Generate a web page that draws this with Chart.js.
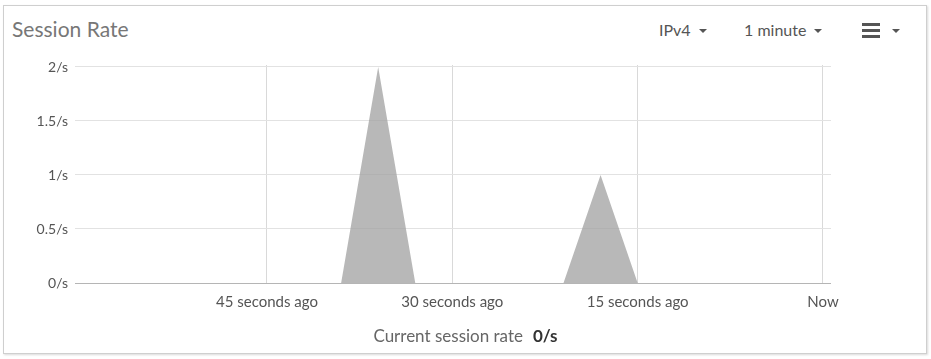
<!DOCTYPE html>
<html>
<head>
<meta charset="utf-8">
<script src="https://cdn.jsdelivr.net/npm/chart.js@4.4.1/dist/chart.umd.min.js"></script>
<style>
  html, body { margin: 0; padding: 0; background: #fff; }
  body { width: 931px; height: 359px; position: relative; overflow: hidden; font-family: Lato, "Open Sans", sans-serif; }
  #panel { position: absolute; left: 3px; top: 5px; width: 922px; height: 347px; border: 1px solid #cfcfcf; box-shadow: 1px 1px 2px rgba(0,0,0,0.15); }
  #title { position: absolute; left: 12px; top: 16px; font-size: 21px; color: #777; }
  .ctl { position: absolute; top: 20px; font-size: 16px; color: #555; }
  .caret { display: inline-block; width: 0; height: 0; border-left: 4px solid transparent; border-right: 4px solid transparent; border-top: 4px solid #555; vertical-align: middle; margin-left: 4px; margin-top: -2px; }
  #burger { position: absolute; left: 862px; top: 23px; width: 18px; }
  #burger i { display: block; height: 3px; background: #555; margin-bottom: 3px; }
  #footer { position: absolute; left: 0; width: 931px; top: 325px; text-align: center; font-size: 17px; color: #666; }
  #footer b { color: #333; margin-left: 10px; }
  #wrap { position: absolute; left: 0; top: 0; width: 931px; height: 359px; }
</style>
</head>
<body>
<div id="panel"></div>
<div id="title">Session Rate</div>
<div class="ctl" style="left:659px">IPv4 <span class="caret"></span></div>
<div class="ctl" style="left:744px">1 minute <span class="caret"></span></div>
<div id="burger"><i></i><i></i><i></i></div>
<div class="ctl" style="left:888px"><span class="caret"></span></div>
<div id="wrap"><canvas id="graph"></canvas></div>
<div id="footer">Current session rate<b>0/s</b></div>

<script>
// samples every 3 seconds over the last minute
const seconds = [-60, -57, -54, -51, -48, -45, -42, -39, -36, -33, -30, -27, -24, -21, -18, -15, -12, -9, -6, -3, 0];
const sessionRate = [0, 0, 0, 0, 0, 0, 0, 0, 2, 0, 0, 0, 0, 0, 1, 0, 0, 0, 0, 0, 0];
const timeTicks = [-45, -30, -15, 0];
const timeLabels = ['45 seconds ago', '30 seconds ago', '15 seconds ago', 'Now'];
const rateTicks = [0, 0.5, 1, 1.5, 2];

Chart.defaults.font.family = 'Lato';
Chart.defaults.color = '#666';

const points = seconds.map((s, i) => ({ x: s, y: sessionRate[i] }));

new Chart(document.getElementById('graph'), {
  type: 'line',
  data: {
    datasets: [{
      data: points,
      fill: 'origin',
      backgroundColor: 'rgba(160,160,160,0.75)',
      borderWidth: 0,
      pointRadius: 0,
      tension: 0
    }]
  },
  options: {
    responsive: true,
    maintainAspectRatio: false,
    animation: false,
    events: [],
    layout: { padding: { left: 0, right: 100, top: 65, bottom: 46 } },
    plugins: { legend: { display: false }, tooltip: { enabled: false } },
    scales: {
      x: {
        type: 'linear',
        min: -60.54,
        max: 0.65,
        afterBuildTicks: (axis) => { axis.ticks = timeTicks.map(v => ({ value: v })); },
        afterFit: (axis) => { axis.height = 30; },
        ticks: {
          autoSkip: false,
          maxRotation: 0,
          padding: 10,
          font: { size: 15 },
          color: '#555',
          callback: (v) => timeLabels[timeTicks.indexOf(v)]
        },
        grid: { color: '#d9d9d9', drawTicks: false },
        border: { display: false }
      },
      y: {
        min: 0,
        max: 2.0185,
        afterBuildTicks: (axis) => { axis.ticks = rateTicks.map(v => ({ value: v })); },
        afterFit: (axis) => { axis.width = 75; },
        ticks: {
          padding: 7,
          font: { size: 14 },
          color: '#555',
          callback: (v) => v + '/s'
        },
        grid: {
          drawTicks: false,
          color: (ctx) => ctx.tick && ctx.tick.value === 0 ? '#b5b5b5' : '#e2e2e2'
        },
        border: { display: false }
      }
    }
  }
});
</script>
</body>
</html>
